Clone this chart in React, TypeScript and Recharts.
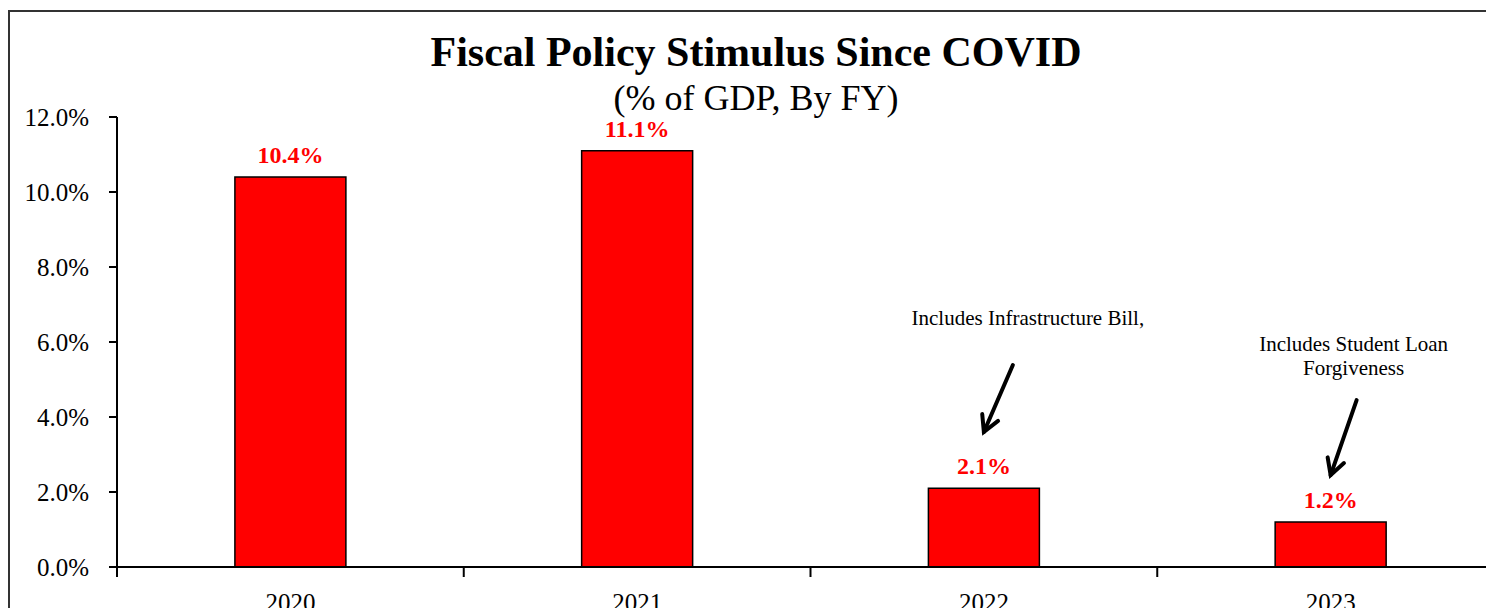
import React from "react";
import {
  BarChart,
  Bar,
  XAxis,
  YAxis,
  LabelList,
  ReferenceDot,
} from "recharts";

const fiscalYears = ["2020", "2021", "2022", "2023"];
const stimulusPct = [10.4, 11.1, 2.1, 1.2];
const yTicks = [0, 2, 4, 6, 8, 10, 12];

const noteInfra = ["Includes Infrastructure Bill,"];
const noteStudent = ["Includes Student Loan", "Forgiveness"];

const data = fiscalYears.map((fy, i) => ({ fy, value: stimulusPct[i] }));

const FONT = "'Palatino Linotype', 'Book Antiqua', Palatino, 'Liberation Serif', serif";

const pct = (v: number) => `${Number(v).toFixed(1)}%`;

// category labels + tick marks sitting on the category boundaries
const XTick = (props: any) => {
  const { x, y, payload } = props;
  const off = payload?.offset ?? 0;
  return (
    <g>
      <line x1={x - off} x2={x - off} y1={y - 24} y2={y - 14} stroke="#000" strokeWidth={2} />
      <text x={x} y={y} dy="0.78em" textAnchor="middle" fontFamily={FONT} fontSize={25} fill="#000">
        {payload.value}
      </text>
    </g>
  );
};

// arrow drawn back from its tip (cx, cy)
const arrowShape = (dx: number, dy: number) => (p: any) => {
  const { cx, cy } = p;
  if (cx == null || cy == null) return <g />;
  const len = Math.hypot(dx, dy);
  const ux = dx / len;
  const uy = dy / len;
  const h = 18;
  const a = 0.5;
  const rot = (ang: number) => [
    ux * Math.cos(ang) - uy * Math.sin(ang),
    ux * Math.sin(ang) + uy * Math.cos(ang),
  ];
  const [l1x, l1y] = rot(a);
  const [l2x, l2y] = rot(-a);
  return (
    <g stroke="#000" strokeWidth={4} strokeLinecap="round" fill="none">
      <line x1={cx + dx} y1={cy - dy} x2={cx} y2={cy} />
      <polyline
        points={`${cx + l1x * h},${cy - l1y * h} ${cx},${cy} ${cx + l2x * h},${cy - l2y * h}`}
      />
    </g>
  );
};

const noteShape = (lines: string[], dx: number) => (p: any) => {
  const { cx, cy } = p;
  if (cx == null || cy == null) return <g />;
  return (
    <text x={cx + dx} y={cy} textAnchor="middle" fontFamily={FONT} fontSize={21} fill="#000">
      {lines.map((l, i) => (
        <tspan key={i} x={cx + dx} dy={i === 0 ? 0 : 24}>
          {l}
        </tspan>
      ))}
    </text>
  );
};

export default function App() {
  return (
    <div
      style={{
        position: "absolute",
        left: 0,
        top: 0,
        width: 1486,
        height: 608,
        overflow: "hidden",
        background: "#fff",
      }}
    >
      <div
        style={{
          position: "absolute",
          left: 8,
          top: 10,
          width: 1500,
          height: 700,
          border: "2px solid #333",
        }}
      />
      <div
        style={{
          position: "absolute",
          left: 0,
          width: 1512,
          top: 28,
          textAlign: "center",
          fontFamily: FONT,
          fontWeight: "bold",
          fontSize: 42,
          lineHeight: "48px",
          color: "#000",
        }}
      >
        Fiscal Policy Stimulus Since COVID
      </div>
      <div
        style={{
          position: "absolute",
          left: 0,
          width: 1512,
          top: 77,
          textAlign: "center",
          fontFamily: FONT,
          fontSize: 36,
          lineHeight: "42px",
          color: "#000",
        }}
      >
        (% of GDP, By FY)
      </div>
      <div style={{ position: "absolute", left: 0, top: 0 }}>
        <BarChart
          width={1520}
          height={650}
          data={data}
          margin={{ top: 117, right: 16, left: 0, bottom: 33 }}
          barCategoryGap="34%"
        >
          <XAxis
            dataKey="fy"
            height={50}
            axisLine={{ stroke: "#000", strokeWidth: 2 }}
            tickLine={false}
            tickSize={9}
            tickMargin={15}
            tick={<XTick />}
            interval={0}
          />
          <YAxis
            width={117}
            domain={[0, 12]}
            ticks={yTicks}
            tickFormatter={pct}
            axisLine={{ stroke: "#000", strokeWidth: 2 }}
            tickLine={{ stroke: "#000", strokeWidth: 2 }}
            tickSize={8}
            tickMargin={20}
            tick={{ fontFamily: FONT, fontSize: 25, fill: "#000" }}
            allowDataOverflow
          />
          <Bar
            dataKey="value"
            fill="#FF0000"
            stroke="#000"
            strokeWidth={1.5}
            isAnimationActive={false}
          >
            <LabelList
              dataKey="value"
              position="top"
              offset={14}
              formatter={(v: any) => pct(v)}
              style={{ fontFamily: FONT, fontSize: 24, fontWeight: "bold", fill: "#FF0000" }}
            />
          </Bar>
          <ReferenceDot x="2022" y={6.45} r={0} shape={noteShape(noteInfra, 44)} />
          <ReferenceDot x="2022" y={3.6} r={0} shape={arrowShape(29, 67)} />
          <ReferenceDot x="2023" y={5.75} r={0} shape={noteShape(noteStudent, 23)} />
          <ReferenceDot x="2023" y={2.45} r={0} shape={arrowShape(26, 75)} />
        </BarChart>
      </div>
    </div>
  );
}
